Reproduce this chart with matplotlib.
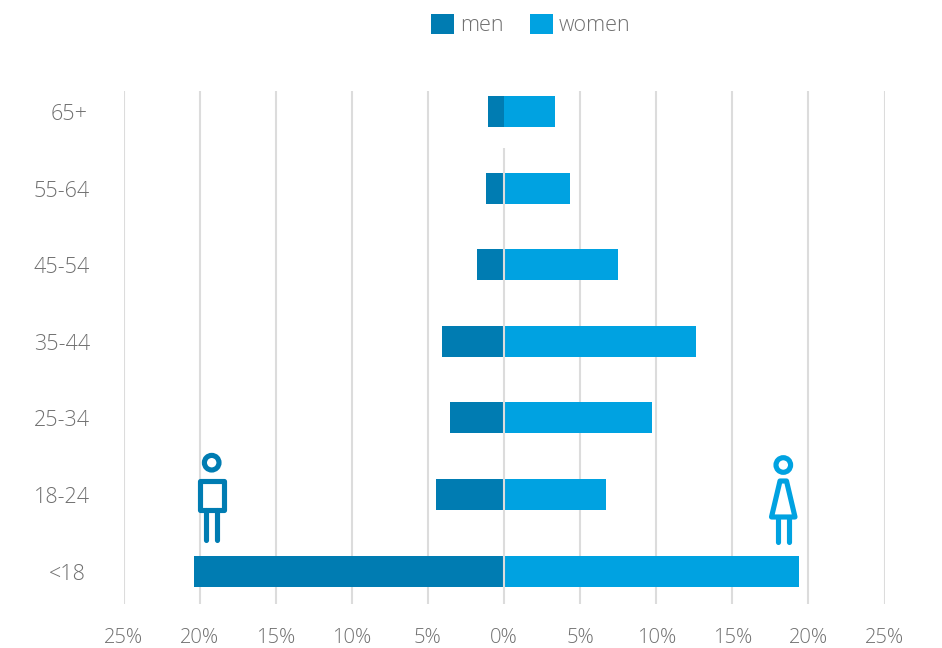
# Population pyramid by age group, men vs women

import matplotlib.pyplot as plt
from matplotlib.patches import Circle, Rectangle, Polygon

plt.rcParams['font.family'] = ['Open Sans', 'DejaVu Sans']
plt.rcParams['font.weight'] = 'light'

# Data
ages = ['<18', '18-24', '25-34', '35-44', '45-54', '55-64', '65+']
men = [20.37, 4.47, 3.55, 4.07, 1.8, 1.2, 1.05]
women = [19.4, 6.7, 9.7, 12.6, 7.5, 4.35, 3.35]
ticks = [-25, -20, -15, -10, -5, 0, 5, 10, 15, 20, 25]

men_color = '#007cb2'
women_color = '#00a2e1'
grid_color = '#dcdcdc'
text_color = '#707070'

W, H = 942, 648
fig = plt.figure(figsize=(W / 100, H / 100), dpi=100)
ax = fig.add_axes([123.5 / W, (H - 604) / H, 761 / W, 513 / H])

y = list(range(len(ages)))
bar_men = ax.barh(y, [-m for m in men], height=0.405, color=men_color, zorder=2, label='men')
bar_women = ax.barh(y, women, height=0.405, color=women_color, zorder=2, label='women')

# grid lines sit behind the bars, the zero line runs over them and stops below the top bar
for t in ticks:
    if t != 0:
        ax.axvline(t, color=grid_color, linewidth=1.5, zorder=1)
ax.plot([0, 0], [-0.43, 5.53], color=grid_color, linewidth=1.5, zorder=3, solid_capstyle='butt')

ax.set_xlim(-25, 25)
ax.set_ylim(-0.43, 6.27)
ax.set_xticks(ticks)
ax.set_xticklabels([f'{abs(t)}%' for t in ticks], fontsize=14.5, color=text_color)
ax.set_yticks(y)
ax.set_yticklabels([])
ax.tick_params(length=0, pad=17)
for s in ax.spines.values():
    s.set_visible(False)

# overlay in pixel coordinates for age labels and the two icons
over = fig.add_axes([0, 0, 1, 1])
over.set_xlim(0, W)
over.set_ylim(H, 0)
over.axis('off')
over.patch.set_alpha(0)

label_x = [67, 62, 62, 62, 62, 62, 69]
for i, a in enumerate(ages):
    py = ax.transData.transform((0, i))[1]
    over.text(label_x[i], H - py + 3, a, ha='center', va='center', fontsize=15.5, color=text_color)

lw = 3.7

# man
over.add_patch(Circle((211.7, 462.7), 7.3, fill=False, ec=men_color, lw=lw))
over.add_patch(Rectangle((200, 481), 24, 29, fill=False, ec=men_color, lw=lw, joinstyle='round'))
over.plot([206, 206], [510, 540], color=men_color, lw=lw, solid_capstyle='round')
over.plot([217, 217], [510, 540], color=men_color, lw=lw, solid_capstyle='round')

# woman
over.add_patch(Circle((783.3, 465), 7.3, fill=False, ec=women_color, lw=lw))
over.add_patch(Polygon([(780, 481), (786.5, 481), (795, 517), (771.5, 517)], closed=True,
                       fill=False, ec=women_color, lw=lw, joinstyle='round'))
over.plot([777.5, 777.5], [517, 542], color=women_color, lw=lw, solid_capstyle='round')
over.plot([789, 789], [517, 542], color=women_color, lw=lw, solid_capstyle='round')

leg = fig.legend(handles=[bar_men, bar_women], loc='center', bbox_to_anchor=(531 / W, (H - 25) / H),
                 ncol=2, frameon=False, fontsize=15.5, labelcolor=text_color,
                 handlelength=1.07, handleheight=1.07, handletextpad=0.28, columnspacing=1.2)

fig.savefig('out.png', dpi=100)
